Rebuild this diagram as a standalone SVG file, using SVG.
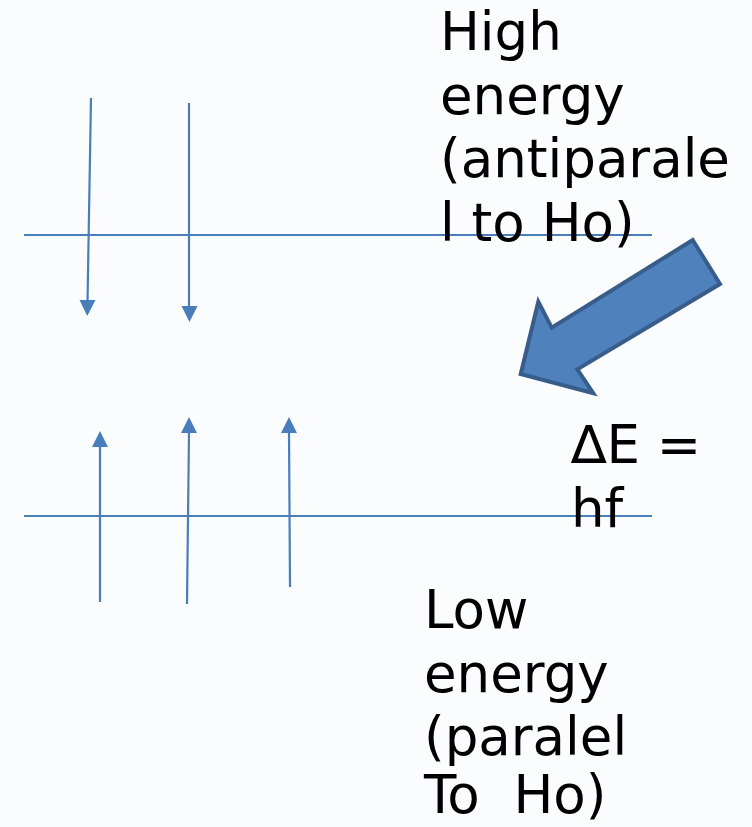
<svg xmlns="http://www.w3.org/2000/svg" width="752" height="827" viewBox="0 0 752 827">
<defs>
<style>
.lvl{stroke:#4a7ebb;stroke-width:2;fill:none}
.spin{stroke:#4a7ebb;stroke-width:2.2;fill:none}
.head{fill:#4a7ebb;stroke:none}
.lbl{font-family:"DejaVu Sans","Liberation Sans",sans-serif;font-size:53px;fill:#000}
.big{fill:#4f81bd;stroke:#385d8a;stroke-width:4;stroke-linejoin:miter}
</style>
</defs>
<rect width="752" height="827" fill="#fbfcfe"/>
<g id="connectors">
<line class="lvl" x1="24" y1="235" x2="652" y2="235"/>
<line class="lvl" x1="24" y1="516" x2="652" y2="516"/>
</g>
<g id="spin-down-1">
<line class="spin" x1="91" y1="98" x2="87.5" y2="302"/>
<polygon class="head" points="79.5,300 95.5,300 87.3,316"/>
</g>
<g id="spin-down-2">
<line class="spin" x1="189" y1="103" x2="189" y2="307"/>
<polygon class="head" points="181.5,306 197.5,306 189.5,322"/>
</g>
<g id="spin-up-1">
<line class="spin" x1="100" y1="602" x2="100" y2="446"/>
<polygon class="head" points="92,447 108,447 100,431"/>
</g>
<g id="spin-up-2">
<line class="spin" x1="187" y1="604" x2="189" y2="432"/>
<polygon class="head" points="181,433 197,433 189,417"/>
</g>
<g id="spin-up-3">
<line class="spin" x1="290" y1="587" x2="289" y2="432"/>
<polygon class="head" points="281,433 297,433 289,417"/>
</g>
<g id="transition-arrow">
<polygon class="big" points="692.7,240 720,284 577.3,369.3 593.3,393.3 520.7,374 538.3,301.7 551.7,327.7"/>
</g>
<g id="high-energy-label">
<text class="lbl" x="440" y="50">High</text>
<text class="lbl" x="440" y="113.5">energy</text>
<text class="lbl" x="440" y="177">(antiparale</text>
<text class="lbl" x="440" y="240.5">l to Ho)</text>
</g>
<g id="delta-e-label">
<text class="lbl" x="571" y="463">∆E =</text>
<text class="lbl" x="571" y="527">hf</text>
</g>
<g id="low-energy-label">
<text class="lbl" x="424" y="628">Low</text>
<text class="lbl" x="424" y="691.5">energy</text>
<text class="lbl" x="424" y="755">(paralel</text>
<text class="lbl" x="424" y="813" xml:space="preserve">To  Ho)</text>
</g>
</svg>
